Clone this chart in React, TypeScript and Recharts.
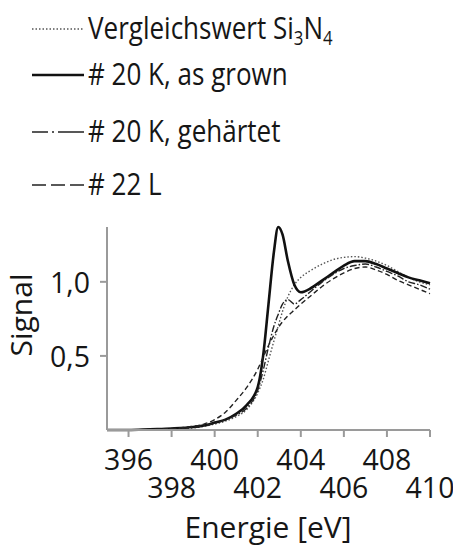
import React from 'react';
import { LineChart, Line, XAxis, YAxis, Label } from 'recharts';

// Energie in eV (dichter um den Peak herum)
const energies = [395, 396, 397, 398, 399, 399.5, 400, 400.5, 401, 401.5, 402, 402.25, 402.5, 402.75, 402.95, 403.15, 403.4, 403.7, 404, 404.5, 405, 405.5, 406, 406.5, 407, 407.5, 408, 408.5, 409, 409.5, 410];

const vergleich = [0, 0, 0.003, 0.008, 0.015, 0.025, 0.04, 0.06, 0.09, 0.14, 0.25, 0.34, 0.47, 0.6, 0.7, 0.8, 0.9, 0.98, 1.03, 1.08, 1.12, 1.15, 1.165, 1.17, 1.16, 1.14, 1.11, 1.07, 1.03, 1.0, 0.98];
const asGrown = [0, 0, 0.005, 0.01, 0.02, 0.03, 0.05, 0.07, 0.11, 0.17, 0.29, 0.5, 0.85, 1.2, 1.37, 1.32, 1.14, 0.98, 0.93, 0.96, 1.01, 1.06, 1.11, 1.14, 1.14, 1.12, 1.09, 1.06, 1.03, 1.01, 0.99];
const gehaertet = [0, 0, 0.003, 0.008, 0.018, 0.03, 0.045, 0.07, 0.1, 0.15, 0.27, 0.4, 0.56, 0.7, 0.78, 0.85, 0.88, 0.85, 0.88, 0.94, 1.0, 1.05, 1.09, 1.11, 1.12, 1.1, 1.07, 1.04, 1.0, 0.98, 0.95];
const probe22L = [0, 0, 0.004, 0.01, 0.025, 0.04, 0.07, 0.12, 0.2, 0.29, 0.41, 0.49, 0.57, 0.64, 0.69, 0.73, 0.77, 0.81, 0.85, 0.91, 0.97, 1.02, 1.06, 1.09, 1.1, 1.08, 1.05, 1.01, 0.98, 0.95, 0.92];

const xTicks = [396, 398, 400, 402, 404, 406, 408, 410];
const yTicks = [0.5, 1.0];

const data = energies.map((e, i) => ({
    e,
    vergleich: vergleich[i],
    asGrown: asGrown[i],
    gehaertet: gehaertet[i],
    probe22L: probe22L[i],
}));

const FONT = '"Open Sans", "Noto Sans", sans-serif';
const TEXT = '#161616';
const AXIS = '#9a9a9a';

const SERIES = [
    { key: 'vergleich', stroke: '#555', width: 1.4, dash: '1.5 2', legendDash: '1.5 2', row: 29 },
    { key: 'asGrown', stroke: '#111', width: 2.6, dash: undefined, legendDash: undefined, row: 75 },
    { key: 'gehaertet', stroke: '#222', width: 1.4, dash: '7 2 1.5 2', legendDash: '16 4 2 4 26', row: 132 },
    { key: 'probe22L', stroke: '#222', width: 1.4, dash: '5 3', legendDash: '14 5', row: 185 },
];

// schmale Schrift nachbilden (horizontal gestaucht)
function NarrowText({ x, y, anchor = 'start', size = 30, sx = 0.95, children }: any) {
    return (
        <text
            transform={`translate(${x} ${y}) scale(${sx} 1)`}
            textAnchor={anchor}
            fill={TEXT}
            fontSize={size}
            fontWeight={500}
            fontFamily={FONT}
        >
            {children}
        </text>
    );
}

function XTick({ x, y, payload, index }: any) {
    // abwechselnd zwei Zeilen
    const dy = index % 2 === 0 ? 33 : 61;
    return <NarrowText x={x} y={y + dy} anchor="middle">{payload.value}</NarrowText>;
}

function YTick({ x, y, payload }: any) {
    return (
        <NarrowText x={x - 10} y={y + 11} anchor="end">
            {payload.value.toFixed(1).replace('.', ',')}
        </NarrowText>
    );
}

function ChartLegend() {
    const labels = [
        <>Vergleichswert Si<tspan fontSize={20} dy={6}>3</tspan><tspan dy={-6}>N</tspan><tspan fontSize={20} dy={6}>4</tspan></>,
        '# 20 K, as grown',
        '# 20 K, gehärtet',
        '# 22 L',
    ];
    return (
        <svg width={453} height={220} style={{ position: 'absolute', left: 0, top: 0 }}>
            {SERIES.map((s, i) => (
                <g key={s.key}>
                    <line x1={32} y1={s.row} x2={84} y2={s.row} stroke={s.stroke} strokeWidth={s.width} strokeDasharray={s.legendDash} />
                    <NarrowText x={88} y={s.row + 10} size={31} sx={0.84}>{labels[i]}</NarrowText>
                </g>
            ))}
        </svg>
    );
}

export default function App() {
    return (
        <div style={{ position: 'fixed', left: 0, top: 0, width: 453, height: 560, background: '#fff' }}>
            <LineChart width={453} height={560} data={data} margin={{ top: 227, right: 23, bottom: 0, left: 0 }}>
                <XAxis
                    dataKey="e"
                    type="number"
                    domain={[395, 410]}
                    ticks={xTicks}
                    interval={0}
                    height={130}
                    axisLine={{ stroke: AXIS, strokeWidth: 2 }}
                    tickLine={{ stroke: AXIS, strokeWidth: 2 }}
                    tickSize={7}
                    tickMargin={0}
                    tick={<XTick />}
                >
                    <Label content={() => <NarrowText x={268} y={538} anchor="middle" sx={1}>Energie [eV]</NarrowText>} />
                </XAxis>
                <YAxis
                    type="number"
                    domain={[0, 1.37]}
                    ticks={yTicks}
                    width={107}
                    axisLine={{ stroke: AXIS, strokeWidth: 2 }}
                    tickLine={{ stroke: AXIS, strokeWidth: 2 }}
                    tickSize={7}
                    tickMargin={0}
                    tick={<YTick />}
                >
                    <Label
                        content={() => (
                            <g transform="translate(32 315) rotate(-90)">
                                <NarrowText x={0} y={0} anchor="middle" sx={1}>Signal</NarrowText>
                            </g>
                        )}
                    />
                </YAxis>
                {SERIES.map(s => (
                    <Line
                        key={s.key}
                        dataKey={s.key}
                        type="monotone"
                        stroke={s.stroke}
                        strokeWidth={s.width}
                        strokeDasharray={s.dash}
                        dot={false}
                        isAnimationActive={false}
                    />
                ))}
            </LineChart>
            <ChartLegend />
        </div>
    );
}
